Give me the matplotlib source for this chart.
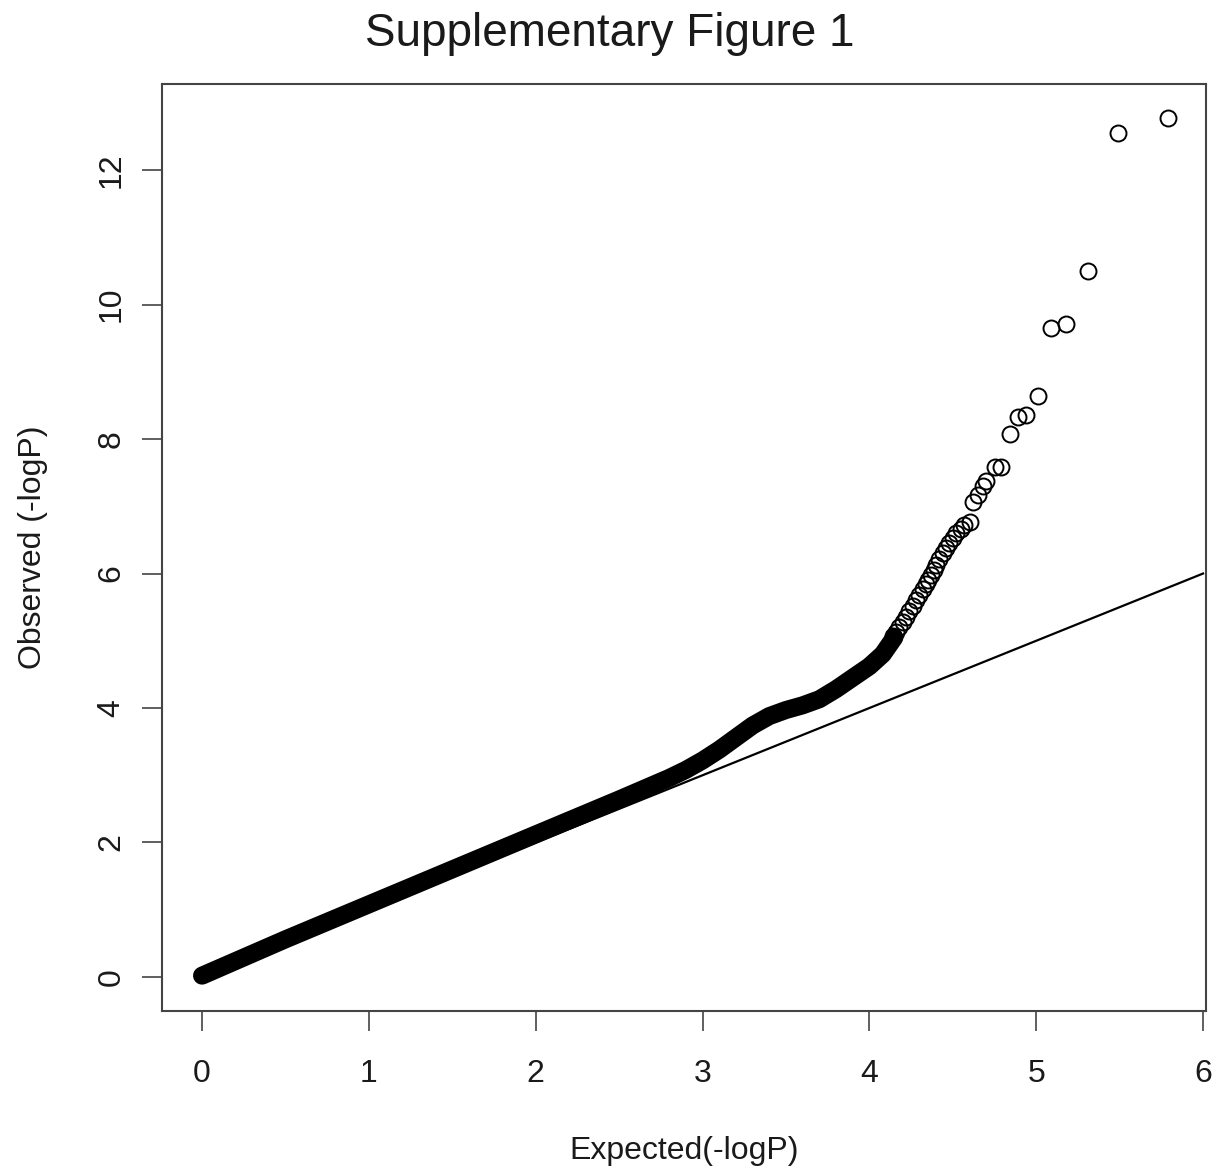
import matplotlib
matplotlib.use("Agg")
import matplotlib.pyplot as plt

plt.rcParams['font.family'] = ['Liberation Sans', 'DejaVu Sans']

# dense part of the QQ cloud (centre of the overlapping-circle band)
band_expected = [0.0, 0.5, 1.0, 1.5, 2.0, 2.5, 2.8, 2.9, 3.0, 3.1, 3.2, 3.3,
                 3.4, 3.5, 3.6, 3.7, 3.8, 3.9, 4.0, 4.08, 4.15]
band_observed = [0.02, 0.56, 1.08, 1.60, 2.12, 2.64, 2.96, 3.08, 3.22, 3.38,
                 3.56, 3.74, 3.88, 3.97, 4.04, 4.13, 4.28, 4.45, 4.62, 4.80,
                 5.05]

# upper tail, individual SNPs
tail_expected = [5.79, 5.49, 5.31, 5.18, 5.09, 5.01, 4.94, 4.89, 4.84,
                 4.79, 4.75, 4.70, 4.68, 4.65, 4.62,
                 4.60, 4.57, 4.55, 4.52, 4.50, 4.48, 4.46, 4.44, 4.42, 4.40,
                 4.385, 4.37, 4.35, 4.34, 4.32, 4.30, 4.28, 4.26, 4.24, 4.22,
                 4.20, 4.18, 4.16, 4.14]
tail_observed = [12.78, 12.55, 10.50, 9.71, 9.65, 8.64, 8.36, 8.33, 8.07,
                 7.59, 7.59, 7.37, 7.30, 7.17, 7.07,
                 6.76, 6.72, 6.66, 6.60, 6.53, 6.46, 6.38, 6.30, 6.22, 6.12,
                 6.05, 5.98, 5.90, 5.84, 5.77, 5.68, 5.60, 5.52, 5.44, 5.36,
                 5.28, 5.20, 5.13, 5.07]

# null expectation y = x
null_line = [0, 6]

x_ticks = [0, 1, 2, 3, 4, 5, 6]
y_ticks = [0, 2, 4, 6, 8, 10, 12]

fig = plt.figure(figsize=(12.19, 11.73), dpi=100)
ax = fig.add_axes([0.1329, 0.1381, 0.8565, 0.7903])

ax.plot(band_expected, band_observed, color='black', lw=13,
        solid_capstyle='round', solid_joinstyle='round', zorder=3)
ax.plot(tail_expected, tail_observed, 'o', mfc='none', mec='black',
        ms=11.5, mew=1.4, zorder=3)
ax.plot(null_line, null_line, color='black', lw=1.6, zorder=2)

ax.set_xlim(-0.24, 6.018)
ax.set_ylim(-0.506, 13.28)
ax.set_xticks(x_ticks)
ax.set_yticks(y_ticks)
ax.set_xticklabels([str(t) for t in x_ticks])
ax.set_yticklabels([str(t) for t in y_ticks], rotation=90, va='center')

txt = '#1a1a1a'
for s in ax.spines.values():
    s.set_color('#444444')
    s.set_linewidth(1.5)
ax.tick_params(axis='both', direction='out', length=14.5, width=1.2,
               color='#444444', labelsize=23, labelcolor=txt)
ax.tick_params(axis='x', pad=20)
ax.tick_params(axis='y', pad=11)

ax.set_xlabel('Expected(-logP)', fontsize=23, color=txt, labelpad=34)
ax.set_ylabel('Observed (-logP)', fontsize=23, color=txt, labelpad=35)
fig.text(0.5, 0.971, 'Supplementary Figure 1', fontsize=33, color=txt,
         ha='center', va='center')

fig.savefig('out.png', dpi=100)
